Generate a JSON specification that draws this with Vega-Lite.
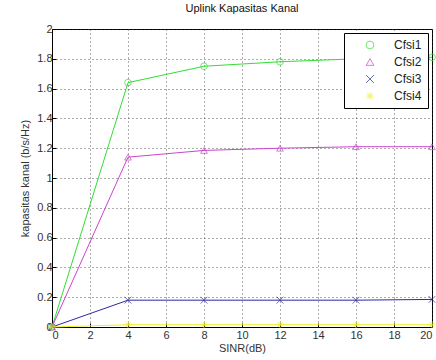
{
  "$schema": "https://vega.github.io/schema/vega-lite/v6.json",
  "autosize": "none",
  "width": 380,
  "height": 298,
  "padding": {"left": 52, "top": 29, "right": 4, "bottom": 33},
  "background": "white",
  "config": {
    "font": "Liberation Sans",
    "view": {"stroke": "black", "strokeWidth": 1},
    "axis": {
      "domainColor": "black",
      "tickColor": "black",
      "tickSize": -4,
      "labelFontSize": 11,
      "labelColor": "#333",
      "titleFontSize": 11,
      "titleFontWeight": "normal",
      "titleColor": "#333",
      "gridColor": "#333",
      "gridDash": [1, 3],
      "gridOpacity": 0.8
    }
  },
  "title": {"text": "Uplink Kapasitas Kanal", "fontSize": 11, "fontWeight": "normal", "color": "#111", "offset": 9},
  "data": {
    "values": [
      {"x": 0, "y": 0, "series": "Cfsi1"},
      {"x": 4, "y": 1.64, "series": "Cfsi1"},
      {"x": 8, "y": 1.75, "series": "Cfsi1"},
      {"x": 12, "y": 1.78, "series": "Cfsi1"},
      {"x": 16, "y": 1.8, "series": "Cfsi1"},
      {"x": 20, "y": 1.81, "series": "Cfsi1"},
      {"x": 0, "y": 0, "series": "Cfsi2"},
      {"x": 4, "y": 1.14, "series": "Cfsi2"},
      {"x": 8, "y": 1.185, "series": "Cfsi2"},
      {"x": 12, "y": 1.2, "series": "Cfsi2"},
      {"x": 16, "y": 1.21, "series": "Cfsi2"},
      {"x": 20, "y": 1.21, "series": "Cfsi2"},
      {"x": 0, "y": 0, "series": "Cfsi3"},
      {"x": 4, "y": 0.18, "series": "Cfsi3"},
      {"x": 8, "y": 0.18, "series": "Cfsi3"},
      {"x": 12, "y": 0.18, "series": "Cfsi3"},
      {"x": 16, "y": 0.18, "series": "Cfsi3"},
      {"x": 20, "y": 0.185, "series": "Cfsi3"},
      {"x": 0, "y": 0, "series": "Cfsi4"},
      {"x": 4, "y": 0.015, "series": "Cfsi4"},
      {"x": 8, "y": 0.015, "series": "Cfsi4"},
      {"x": 12, "y": 0.015, "series": "Cfsi4"},
      {"x": 16, "y": 0.015, "series": "Cfsi4"},
      {"x": 20, "y": 0.015, "series": "Cfsi4"}
    ]
  },
  "encoding": {
    "x": {
      "field": "x", "type": "quantitative",
      "scale": {"domain": [0, 20], "nice": false},
      "axis": {"title": "SINR(dB)", "values": [0,2,4,6,8,10,12,14,16,18,20], "labelPadding": 6, "titlePadding": 2}
    },
    "y": {
      "field": "y", "type": "quantitative",
      "scale": {"domain": [0, 2], "nice": false},
      "axis": {"title": "kapasitas kanal (b/s/Hz)", "values": [0,0.2,0.4,0.6,0.8,1,1.2,1.4,1.6,1.8,2], "format": "~g", "labelPadding": 4, "titlePadding": 6}
    }
  },
  "resolve": {"legend": {"color": "independent", "shape": "independent"}},
  "layer": [
    {
      "mark": {"type": "line", "strokeWidth": 1},
      "encoding": {
        "color": {
          "field": "series", "type": "nominal",
          "scale": {"domain": ["Cfsi1", "Cfsi2", "Cfsi3", "Cfsi4"], "range": ["#33dd33", "#cc44cc", "#2a2aa0", "#eeee22"]},
          "legend": null
        }
      }
    },
    {
      "mark": {"type": "point", "filled": false, "fill": "transparent", "size": 45, "strokeWidth": 1},
      "encoding": {
        "color": {
          "field": "series", "type": "nominal",
          "scale": {"domain": ["Cfsi1", "Cfsi2", "Cfsi3", "Cfsi4"], "range": ["#33dd33", "#cc44cc", "#2a2aa0", "#eeee22"]},
          "legend": {
            "title": null,
            "orient": "top-right",
            "offset": 4,
            "strokeColor": "black",
            "fillColor": "white",
            "padding": 6,
            "labelFontSize": 12,
            "labelColor": "#222",
            "symbolSize": 60,
            "symbolStrokeWidth": 1,
            "symbolOffset": 14,
            "rowPadding": 5,
            "labelOffset": 18
          }
        },
        "shape": {
          "field": "series", "type": "nominal",
          "scale": {"domain": ["Cfsi1", "Cfsi2", "Cfsi3", "Cfsi4"], "range": ["circle", "triangle-up", "M-1,-1L1,1M-1,1L1,-1", "M-1,0L1,0M0,-1L0,1M-0.7,-0.7L0.7,0.7M-0.7,0.7L0.7,-0.7"]}
        }
      }
    }
  ]
}
